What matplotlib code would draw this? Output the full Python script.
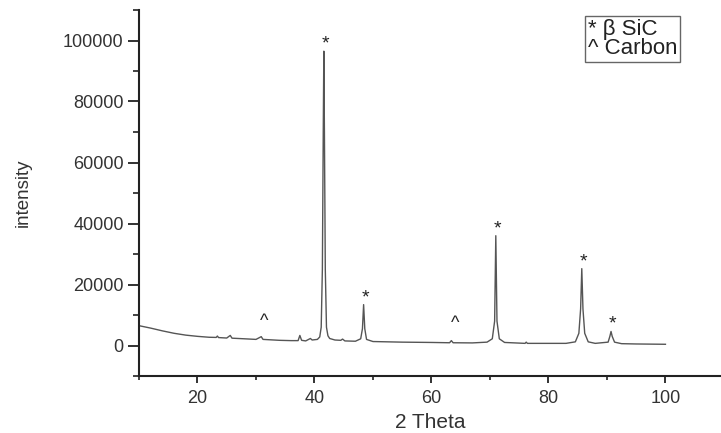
import matplotlib
matplotlib.use("Agg")
import matplotlib.pyplot as plt
from matplotlib.ticker import MultipleLocator

plt.rcParams['font.family'] = ['Liberation Sans', 'DejaVu Sans']

# XRD pattern points (2 theta, intensity)
two_theta = [10, 12, 14, 16, 18, 20, 22, 23.2, 23.4, 23.6, 25, 25.6, 25.9, 28, 30,
             30.9, 31.2, 34, 36, 37.2, 37.5, 37.8, 38.5, 39.3, 39.6, 40.5, 40.9, 41.15,
             41.35, 41.5, 41.6, 41.7, 41.85, 42.05, 42.3, 42.6, 43.5, 44.5, 44.8, 45.2, 47,
             47.9, 48.2, 48.4, 48.6, 48.9, 50, 55, 60, 63.1, 63.4, 63.7, 67, 69.5,
             70.4, 70.8, 71.0, 71.2, 71.6, 72.5, 76.0, 76.2, 76.4, 80, 83, 84.6,
             85.2, 85.5, 85.7, 85.9, 86.2, 86.8, 88, 90.2, 90.5, 90.7, 90.9, 91.3,
             92.5, 95, 100]
intensity = [6500, 5700, 4800, 4000, 3400, 3000, 2700, 2650, 3100, 2600, 2450, 3300,
             2400, 2200, 2000, 2900, 2000, 1700, 1600, 1600, 3300, 1700, 1500, 2300,
             1800, 2000, 2800, 6000, 25000, 70000, 96500, 70000, 25000, 6000, 3200,
             2300, 1800, 1700, 2100, 1500, 1400, 2200, 5500, 13400, 5500, 2000, 1300,
             1100, 1000, 900, 1600, 900, 850, 1100, 2200, 8000, 36000, 8000, 2200, 1000,
             700, 1100, 700, 700, 700, 1200, 4000, 12000, 25200, 12000, 4000, 1200, 700,
             1100, 3000, 4600, 3000, 1100, 600, 500, 400]

sic_peaks = [41.6, 48.4, 71.0, 85.7, 90.7]
sic_heights = [96500, 13400, 36000, 25200, 4600]
carbon_peaks = [31.4, 64.0]
carbon_heights = [5200, 4300]

legend_lines = ["* \u03b2 SiC", "^ Carbon"]

fig = plt.figure(figsize=(7.21, 4.33), dpi=100)
ax = fig.add_axes([139 / 721, 1 - 376 / 433, (721 - 139) / 721, (376 - 10) / 433])

ax.plot(two_theta, intensity, color='#555555', lw=1.0)

for x, h in zip(sic_peaks, sic_heights):
    ax.annotate('*', (x, h), xytext=(1, -1), textcoords='offset points',
                ha='center', va='bottom', fontsize=14, color='#222222')
for x, h in zip(carbon_peaks, carbon_heights):
    ax.annotate('^', (x, h), xytext=(0, 0), textcoords='offset points',
                ha='center', va='bottom', fontsize=13, color='#222222')

ax.set_xlim(10, 109.5)
ax.set_ylim(-10000, 110000)
ax.xaxis.set_major_locator(MultipleLocator(20))
ax.xaxis.set_minor_locator(MultipleLocator(10))
ax.yaxis.set_major_locator(MultipleLocator(20000))
ax.yaxis.set_minor_locator(MultipleLocator(10000))

for s in ['top', 'right']:
    ax.spines[s].set_visible(False)
for s in ['left', 'bottom']:
    ax.spines[s].set_linewidth(1.5)
    ax.spines[s].set_color('#222222')

ax.tick_params(axis='y', which='major', direction='out', length=8, width=1.3,
               labelsize=13, pad=3, colors='#222222', labelcolor='#333333')
ax.tick_params(axis='y', which='minor', direction='out', length=4.5, width=1.2,
               colors='#222222')
ax.tick_params(axis='x', which='major', direction='out', length=5, width=1.3,
               labelsize=13, pad=5, colors='#222222', labelcolor='#333333')
ax.tick_params(axis='x', which='minor', direction='out', length=3, width=1.2,
               colors='#222222')

ax.set_xlabel('2 Theta', fontsize=15, color='#333333')
ax.xaxis.set_label_coords(0.5, -0.10)
ax.set_ylabel('intensity', fontsize=13.5, color='#333333')
ax.yaxis.set_label_coords(-0.185, 0.5)

fig.text(588 / 721, 1 - 39 / 433, "\n".join(legend_lines), fontsize=16,
         color='#222222', ha='left', va='center', linespacing=0.9,
         bbox=dict(boxstyle='square,pad=0.12', facecolor='white',
                   edgecolor='#666666', linewidth=1.0))

fig.savefig('out.png', dpi=100)
